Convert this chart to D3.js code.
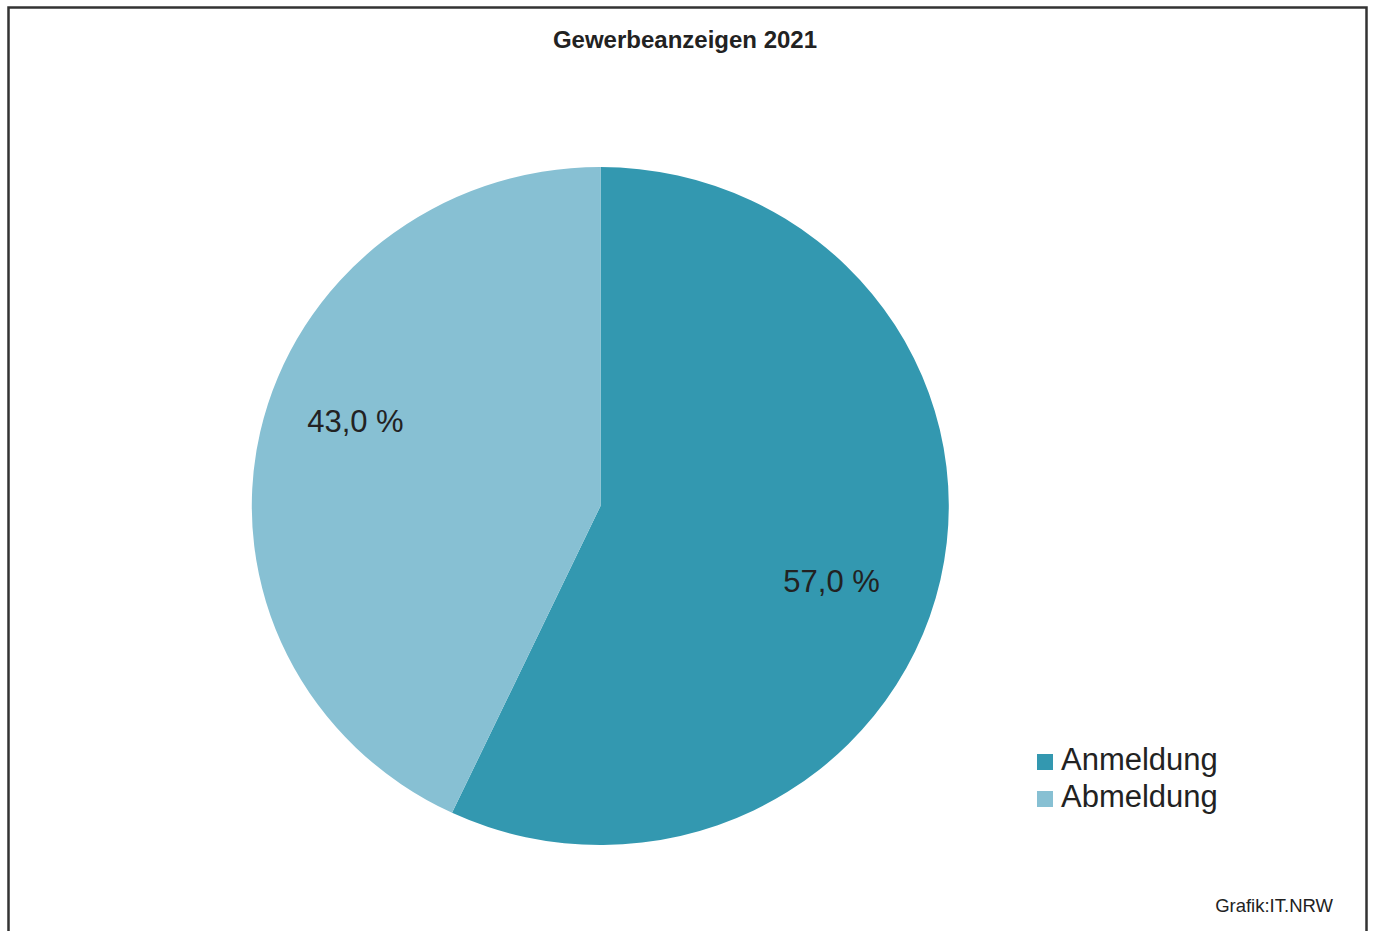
<!DOCTYPE html>
<html>
<head>
<meta charset="utf-8">
<script src="https://cdn.jsdelivr.net/npm/d3@7"></script>
<style>
  body { margin: 0; background: #fff; }
  svg { display: block; font-family: "Liberation Sans", Arial, sans-serif; }
</style>
</head>
<body>
<div id="chart"></div>
<script>
// data
var categories = ['Anmeldung', 'Abmeldung'];
var shares = [57.0, 43.0];
var colors = ['#3398b0', '#87c0d3'];
var title = 'Gewerbeanzeigen 2021';
var source = 'Grafik:IT.NRW';

var width = 1373, height = 931;
var cx = 600.5, cy = 506;
var rx = 348.5, ry = 339;

var svg = d3.select('#chart').append('svg')
    .attr('width', width).attr('height', height);

// frame
svg.append('rect')
    .attr('x', 8.5).attr('y', 7.5)
    .attr('width', 1358).attr('height', 940)
    .attr('fill', 'none').attr('stroke', '#333').attr('stroke-width', 2.5);

svg.append('text')
    .attr('x', 685).attr('y', 48)
    .attr('text-anchor', 'middle')
    .attr('font-size', 24).attr('font-weight', 'bold')
    .attr('fill', '#222')
    .text(title);

var data = categories.map(function(c, i) {
    return { name: c, value: shares[i], color: colors[i] };
});

var pie = d3.pie().sort(null).value(function(d) { return d.value; });
var arcs = pie(data);

// unit arc, stretched into an ellipse
var arc = d3.arc().innerRadius(0).outerRadius(1);

var g = svg.append('g')
    .attr('transform', 'translate(' + cx + ',' + cy + ')');

g.append('g')
    .attr('transform', 'scale(' + rx + ',' + ry + ')')
    .selectAll('path').data(arcs).enter().append('path')
    .attr('d', arc)
    .attr('fill', function(d) { return d.data.color; });

// labels
var fmt = function(v) { return d3.format('.1f')(v).replace('.', ',') + ' %'; };
var kx = 0.7, ky = 1.08;
g.selectAll('.lbl').data(arcs).enter().append('text')
    .attr('class', 'lbl')
    .attr('x', function(d) {
        var a = (d.startAngle + d.endAngle) / 2;
        return Math.sin(a) * rx * kx - 7;
    })
    .attr('y', function(d) {
        var a = (d.startAngle + d.endAngle) / 2;
        return -Math.cos(a) * ry * ky + 6;
    })
    .attr('text-anchor', 'middle')
    .attr('font-size', 31)
    .attr('fill', '#222')
    .text(function(d) { return fmt(d.data.value); });

// legend
var legend = svg.append('g').attr('transform', 'translate(1037,754)');
var item = legend.selectAll('g').data(data).enter().append('g')
    .attr('transform', function(d, i) { return 'translate(0,' + (i * 37) + ')'; });
item.append('rect')
    .attr('width', 16).attr('height', 16)
    .attr('fill', function(d) { return d.color; });
item.append('text')
    .attr('x', 24).attr('y', 16)
    .attr('font-size', 31)
    .attr('fill', '#222')
    .text(function(d) { return d.name; });

svg.append('text')
    .attr('x', 1333).attr('y', 912)
    .attr('text-anchor', 'end')
    .attr('font-size', 18.5)
    .attr('fill', '#222')
    .text(source);
</script>
</body>
</html>
